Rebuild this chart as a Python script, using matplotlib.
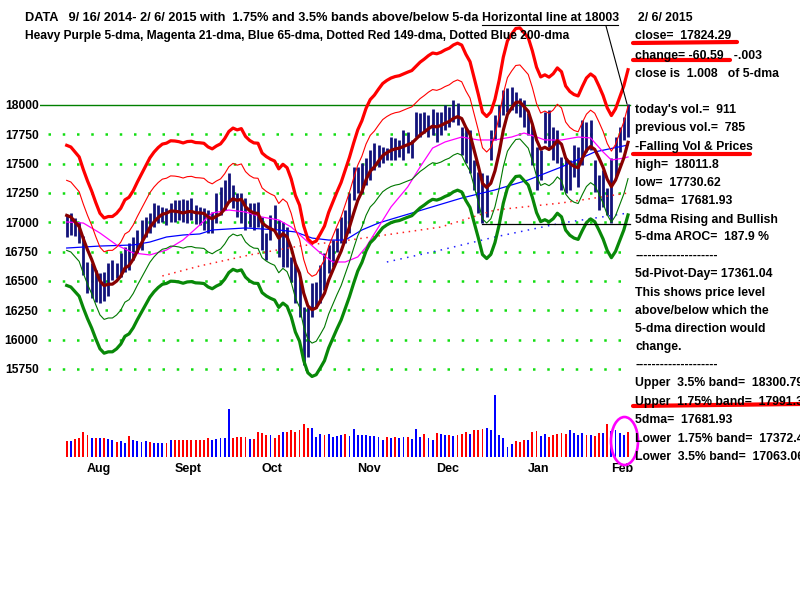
import numpy as np
import pandas as pd
import matplotlib
matplotlib.use("Agg")
import matplotlib.pyplot as plt
import matplotlib.transforms as mtransforms
from matplotlib.lines import Line2D
from matplotlib.patches import Ellipse

plt.rcParams['font.family'] = ['Liberation Sans', 'DejaVu Sans']
plt.rcParams['font.weight'] = 'bold'

# ---------------------------------------------------------------------------
# data: one row per trading day, 7/25/2014 .. 2/6/2015 (day index 0..135)
# ---------------------------------------------------------------------------
warmup_closes = [17051.73, 17113.54, 17086.63, 17083.80]   # 7/21 - 7/24

closes = [
    16960.57, 16982.59, 16912.11, 16880.36, 16563.30, 16493.37, 16569.28, 16429.47, 16443.34, 16368.27,
    16553.93, 16569.98, 16560.54, 16651.80, 16713.58, 16662.91, 16838.74, 16919.59, 16979.13, 17039.49,
    17001.22, 17076.87, 17106.70, 17122.01, 17079.57, 17098.45, 17067.56, 17078.28, 17069.58, 17137.36,
    17111.42, 17013.87, 17068.71, 17049.00, 16987.51, 17031.14, 17131.97, 17156.85, 17265.99, 17279.74,
    17172.68, 17055.87, 17210.06, 16945.80, 17113.15, 17071.22, 17042.90, 16804.71, 16801.05, 17009.69,
    16991.91, 16719.39, 16994.22, 16659.25, 16544.10, 16321.07, 16315.19, 16141.74, 16117.24, 16380.41,
    16399.67, 16614.81, 16461.32, 16677.90, 16805.41, 16817.94, 17005.75, 16974.31, 17195.42, 17390.52,
    17366.24, 17383.84, 17484.53, 17554.47, 17573.93, 17613.74, 17614.90, 17612.20, 17652.79, 17634.74,
    17647.75, 17687.82, 17685.73, 17719.00, 17810.06, 17817.90, 17814.94, 17827.75, 17828.24, 17776.80,
    17879.55, 17912.62, 17900.10, 17958.79, 17852.48, 17801.20, 17533.15, 17596.34, 17280.83, 17180.84,
    17068.87, 17356.87, 17778.15, 17804.80, 17959.44, 18024.17, 18030.21, 18053.71, 18038.23, 17983.07,
    17823.07, 17832.99, 17501.65, 17371.64, 17584.52, 17907.87, 17737.37, 17640.84, 17613.68, 17427.09,
    17320.71, 17511.57, 17515.23, 17554.28, 17813.98, 17672.60, 17678.70, 17387.21, 17191.37, 17416.85,
    17164.95, 17361.04, 17666.40, 17673.02, 17884.88, 17824.29,
]

highs = [
    17062, 17080, 17037, 17003, 16884, 16662, 16653, 16594, 16568, 16577,
    16653, 16679, 16653, 16739, 16790, 16824, 16875, 16935, 17020, 17045,
    17080, 17165, 17148, 17131, 17122, 17165, 17190, 17190, 17199, 17190,
    17207, 17148, 17131, 17122, 17105, 17088, 17250, 17301, 17361, 17420,
    17318, 17250, 17250, 17207, 17165, 17165, 17173, 17045, 16909, 17062,
    17148, 17020, 17003, 16960, 16705, 16653, 16534, 16278, 16278, 16483,
    16491, 16636, 16739, 16806, 16849, 16952, 17045, 17105, 17250, 17472,
    17472, 17506, 17548, 17616, 17676, 17659, 17642, 17634, 17727, 17719,
    17702, 17787, 17770, 17702, 17940, 17932, 17940, 17915, 17966, 17940,
    17940, 18000, 17983, 18043, 18017, 17812, 17804, 17787, 17531, 17429,
    17420, 17403, 17787, 17915, 18000, 18128, 18145, 18153, 18111, 18060,
    18043, 17932, 17830, 17642, 17616, 17940, 17957, 17812, 17787, 17557,
    17548, 17531, 17659, 17642, 17872, 17855, 17872, 17531, 17403, 17446,
    17293, 17548, 17727, 17812, 17898, 18011.8,
]

lows = [
    16875, 16892, 16884, 16824, 16551, 16398, 16355, 16321, 16312, 16330,
    16372, 16509, 16526, 16534, 16577, 16594, 16679, 16739, 16764, 16875,
    16909, 16960, 16994, 17003, 16977, 17003, 17003, 17020, 17003, 16994,
    17020, 16986, 16977, 16935, 16909, 16909, 16994, 17062, 17105, 17173,
    17122, 17045, 16994, 16935, 16960, 16935, 16960, 16764, 16679, 16849,
    16935, 16705, 16619, 16619, 16491, 16312, 16193, 15784, 15852, 16193,
    16270, 16312, 16423, 16568, 16619, 16747, 16824, 16824, 16909, 17190,
    17250, 17250, 17318, 17361, 17446, 17472, 17506, 17531, 17531, 17531,
    17557, 17531, 17591, 17548, 17727, 17727, 17761, 17727, 17744, 17685,
    17744, 17787, 17812, 17855, 17830, 17574, 17506, 17420, 17276, 17080,
    16994, 17045, 17531, 17702, 17812, 17915, 17940, 17957, 17932, 17898,
    17812, 17744, 17489, 17276, 17361, 17676, 17642, 17531, 17506, 17276,
    17250, 17276, 17386, 17301, 17489, 17599, 17616, 17258, 17105, 17131,
    17062, 16994, 17386, 17599, 17702, 17730.62,
]

volume = [
    582, 582, 655, 703, 910, 801, 681, 681, 681, 681,
    644, 619, 546, 582, 510, 764, 619, 582, 546, 582,
    546, 510, 510, 510, 510, 619, 619, 619, 619, 619,
    619, 619, 619, 619, 692, 619, 667, 692, 692, 1747,
    692, 728, 728, 728, 667, 667, 910, 874, 801, 801,
    692, 801, 910, 910, 972, 910, 983, 1201, 1056, 1056,
    728, 837, 801, 837, 728, 764, 801, 837, 764, 1019,
    801, 801, 801, 764, 764, 728, 619, 728, 692, 728,
    692, 728, 728, 667, 1019, 728, 826, 706, 633, 874,
    826, 790, 790, 753, 790, 826, 910, 826, 972, 997,
    1034, 1056, 972, 2246, 790, 706, 364, 462, 571, 546,
    633, 633, 910, 935, 753, 852, 728, 790, 852, 874,
    852, 972, 874, 790, 874, 790, 790, 753, 874, 874,
    1190, 940, 972, 888, 785, 911,
]

# volume bar colour as seen on the chart: r = red, b = blue
vol_color_codes = (
    "rbrrrrbrbr" "bbrbbrbbbb" "rbbbrbrrrr" "rrrrrbbbbb" "rrrrbrrrrb"
    "rrbrrrrrrb" "bbrbbbbrbb" "bbbbbbbrbr" "bbrbbbrbbr" "bbrbrrrbrr"
    "rbbbbbbbrr" "rbrrbbrrrr" "rbbbbrbrrb" "rbbbbr"
)

month_names = ['Aug', 'Sept', 'Oct', 'Nov', 'Dec', 'Jan', 'Feb']
month_start = [5, 26, 47, 70, 89, 111, 131]

# longer averages (day index, value)
ma21_days = [0, 4, 8, 12, 16, 20, 24, 28, 32, 35, 39, 43, 47, 51, 54, 58, 61, 64, 67, 70,
             72, 75, 78, 82, 85, 88, 91, 95, 99, 103, 107, 110, 113, 115, 119, 123, 126, 129, 131, 134, 135]
ma21 = [17003, 16994, 16909, 16807, 16739, 16722, 16764, 16850, 16977, 17080,
        17105, 17088, 17045, 17020, 16960, 16832, 16739, 16662, 16662, 16705,
        16790, 16960, 17131, 17301, 17472, 17633, 17685, 17727, 17702, 17702,
        17727, 17761, 17727, 17702, 17702, 17727, 17719, 17600, 17531, 17548, 17557]

ma65_days = [0, 8, 16, 20, 24, 28, 32, 35, 43, 51, 55, 59, 63, 67, 71, 75, 79, 83, 87, 95,
             103, 111, 119, 127, 135]
ma65 = [16781, 16798, 16807, 16832, 16875, 16892, 16901, 16935, 16952, 16935,
        16918, 16866, 16849, 16849, 16935, 16994, 17037, 17079, 17122, 17207,
        17276, 17361, 17472, 17600, 17659]

ma149_days = [23, 32, 44, 56, 68, 80, 90, 103, 119, 135]
ma149 = [16543, 16628, 16722, 16798, 16849, 16909, 16960, 17105, 17165, 17250]

ma200_days = [77, 90, 103, 119, 135]
ma200 = [16662, 16764, 16875, 16994, 17079]

band_pcts = [0.0175, 0.035]
hline_level = 18003
support_level = 16990
support_days = [100, 135.5]
price_levels = [15750, 16000, 16250, 16500, 16750, 17000, 17250, 17500, 17750, 18000]

side_lines = [
    ("close=  17824.29", 36), ("change= -60.59   -.003", 56), ("close is  1.008   of 5-dma", 74),
    ("today's vol.=  911", 110), ("previous vol.=  785", 128), ("-Falling Vol & Prices", 147),
    ("high=  18011.8", 165), ("low=  17730.62", 183), ("5dma=  17681.93", 201),
    ("5dma Rising and Bullish", 220), ("5-dma AROC=  187.9 %", 237), ("-" * 20, 256),
    ("5d-Pivot-Day= 17361.04", 274), ("This shows price level", 293), ("above/below which the", 311),
    ("5-dma direction would", 329), ("change.", 347), ("-" * 20, 365),
    ("Upper  3.5% band=  18300.79", 383), ("Upper  1.75% band=  17991.36", 402),
    ("5dma=  17681.93", 420), ("Lower  1.75% band=  17372.49", 439), ("Lower  3.5% band=  17063.06", 457),
]

# ---------------------------------------------------------------------------
days = np.arange(len(closes))
all_closes = pd.Series(warmup_closes + closes)
ma5 = all_closes.rolling(5).mean().iloc[len(warmup_closes):].to_numpy()
vol_colors = ['#0000ff' if c == 'b' else '#ff0000' for c in vol_color_codes]

W, H = 800, 600
fig = plt.figure(figsize=(8, 6), dpi=100)
fig.patch.set_facecolor('white')

def fx(x):
    return x / W

def fy(y):
    return 1 - y / H

XLIM = (-6.42, 137.88)
ax = fig.add_axes([fx(40), fy(380), fx(600), 380 / H])
ax.set_xlim(*XLIM)
ax.set_ylim(15656.2, 18894.9)
ax.patch.set_visible(False)
for s in ax.spines.values():
    s.set_visible(False)
ax.set_xticks([])
ax.set_yticks(price_levels)
ax.set_yticklabels([str(v) for v in price_levels], fontsize=8.7, fontweight='bold')
ax.tick_params(axis='y', length=0, pad=1)

# dotted green grid and the horizontal line
for lvl in price_levels[:-1]:
    ax.plot([-4.45, 135.5], [lvl, lvl], color='#11dd11', lw=1.8,
            ls=(0, (1, 4.7)), zorder=1)
ax.plot([XLIM[0], 135.5], [hline_level, hline_level], color='#008000', lw=1.0, zorder=1)

# price bars
ax.vlines(days, lows, highs, color='#12127a', lw=2.0, zorder=2)

# moving averages and bands
ax.plot(ma200_days, ma200, color='#2020ff', lw=1.1, ls=(0, (1, 3.5)), zorder=3)
ax.plot(ma149_days, ma149, color='#ff2020', lw=1.1, ls=(0, (1, 3)), zorder=3)
ax.plot(ma65_days, ma65, color='#0000ff', lw=0.9, zorder=3)
ax.plot(ma21_days, ma21, color='#ff00ff', lw=0.9, zorder=3)
lo_pct, hi_pct = band_pcts
ax.plot(days, ma5 * (1 + lo_pct), color='#ff0000', lw=0.8, zorder=3)
ax.plot(days, ma5 * (1 - lo_pct), color='#007700', lw=0.8, zorder=3)
ax.plot(days, ma5 * (1 + hi_pct), color='#ff0000', lw=2.3, zorder=3)
ax.plot(days, ma5 * (1 - hi_pct), color='#088808', lw=2.3, zorder=3)
ax.plot(days, ma5, color='#880000', lw=2.3, zorder=4)
ax.plot(support_days, [support_level] * 2, color='black', lw=0.9, zorder=4)

# volume
axv = fig.add_axes([fx(40), fy(457), fx(600), 77 / H])
axv.set_xlim(*XLIM)
axv.set_ylim(0, 2806)
axv.axis('off')
axv.bar(days, volume, width=0.45, color=vol_colors)
trans = mtransforms.blended_transform_factory(axv.transData, axv.transAxes)
for name, d in zip(month_names, month_start):
    axv.text(d - 0.15, -0.156, name, transform=trans, ha='left', va='center',
             fontsize=9, fontweight='bold')

# header text
fig.text(fx(25), fy(18), "DATA   9/ 16/ 2014- 2/ 6/ 2015 with  1.75% and 3.5% bands above/below 5-da",
         fontsize=9.2, va='center')
fig.text(fx(482), fy(18), "Horizontal line at 18003", fontsize=8.8, va='center')
fig.text(fx(25), fy(36), "Heavy Purple 5-dma, Magenta 21-dma, Blue 65-dma, Dotted Red 149-dma, Dotted Blue 200-dma",
         fontsize=8.65, va='center')
fig.text(fx(638), fy(18), "2/ 6/ 2015", fontsize=8.8, va='center')
for txt, y in side_lines:
    fig.text(fx(635), fy(y), txt, fontsize=8.8, va='center')

# hand-drawn marks
def seg(x0, y0, x1, y1, **kw):
    fig.add_artist(Line2D([fx(x0), fx(x1)], [fy(y0), fy(y1)], **kw))

seg(482, 25, 618, 25, color='black', lw=0.8)
seg(606, 26, 627, 104, color='black', lw=0.8)
for x0, y0, x1, y1 in [(633, 43, 737, 42), (633, 60, 730, 60), (633, 154, 750, 154), (633, 406, 800, 404)]:
    seg(x0, y0, x1, y1, color='#ff0000', lw=3.0, solid_capstyle='round')
fig.add_artist(Ellipse((fx(624.5), fy(441)), fx(27), 48 / H, fill=False,
                       edgecolor='#ff00ff', lw=1.9))

fig.savefig('out.png', dpi=100, facecolor='white')
